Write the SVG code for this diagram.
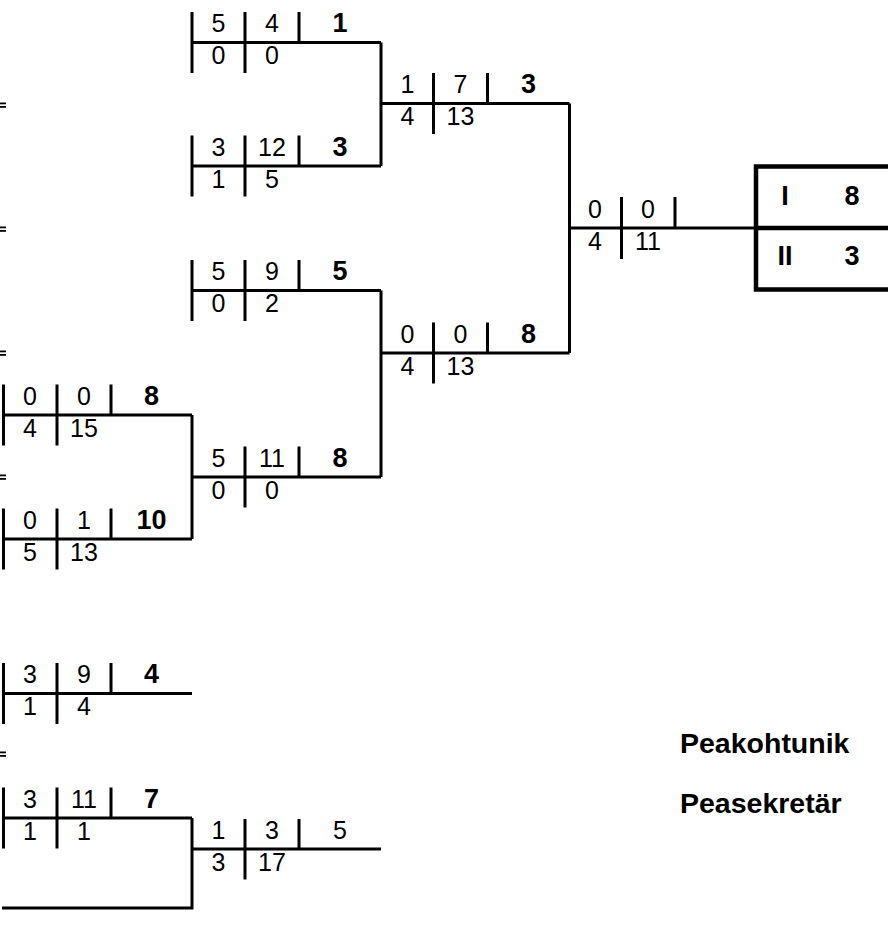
<svg xmlns="http://www.w3.org/2000/svg" width="888" height="934" viewBox="0 0 888 934">
<style>
.ln{stroke:#000;stroke-width:3;fill:none}
.bx{stroke:#000;stroke-width:4.5;fill:none}
.t{font-family:"Liberation Sans",Arial,sans-serif;font-size:25px;fill:#000;text-anchor:middle}
.b{font-weight:bold;font-size:27px}
.lab{font-family:"Liberation Sans",Arial,sans-serif;font-size:28.5px;font-weight:bold;fill:#000}
.mk{fill:#000}
</style>
<rect width="888" height="934" fill="#fff"/>
<g id="marks">
<rect class="mk" x="0" y="102.5" width="6" height="1.8"/><rect class="mk" x="0" y="106" width="6" height="1.8"/>
<rect class="mk" x="0" y="226.5" width="6" height="1.8"/><rect class="mk" x="0" y="230" width="6" height="1.8"/>
<rect class="mk" x="0" y="350.5" width="6" height="1.8"/><rect class="mk" x="0" y="354" width="6" height="1.8"/>
<rect class="mk" x="0" y="474.5" width="6" height="1.8"/><rect class="mk" x="0" y="478" width="6" height="1.8"/>
<rect class="mk" x="0" y="751.5" width="6" height="1.8"/><rect class="mk" x="0" y="755" width="6" height="1.8"/>
</g>
<g id="connectors">
<path class="ln" d="M381,42.5V166M381,290.5V477M192,415V539M569.5,103.5V353M192,818V908H2"/>
</g>
<g id="nA">
<path class="ln" d="M192,12V73M245,12V73M299,12V42.5M192,42.5H381"/>
<text class="t" x="218.5" y="32">5</text><text class="t" x="272" y="32">4</text><text class="t b" x="340" y="32">1</text>
<text class="t" x="218.5" y="64">0</text><text class="t" x="272" y="64">0</text>
</g>
<g id="nB">
<path class="ln" d="M192,135.5V196.5M245,135.5V196.5M299,135.5V166M192,166H381"/>
<text class="t" x="218.5" y="155.5">3</text><text class="t" x="272" y="155.5">12</text><text class="t b" x="340" y="155.5">3</text>
<text class="t" x="218.5" y="187.5">1</text><text class="t" x="272" y="187.5">5</text>
</g>
<g id="nD">
<path class="ln" d="M192,260V321M245,260V321M299,260V290.5M192,290.5H381"/>
<text class="t" x="218.5" y="280">5</text><text class="t" x="272" y="280">9</text><text class="t b" x="340" y="280">5</text>
<text class="t" x="218.5" y="312">0</text><text class="t" x="272" y="312">2</text>
</g>
<g id="nE">
<path class="ln" d="M3.5,384.5V445.5M57,384.5V445.5M111,384.5V415M3.5,415H192"/>
<text class="t" x="30" y="404.5">0</text><text class="t" x="84" y="404.5">0</text><text class="t b" x="151.5" y="404.5">8</text>
<text class="t" x="30" y="436.5">4</text><text class="t" x="84" y="436.5">15</text>
</g>
<g id="nF">
<path class="ln" d="M3.5,508.5V569.5M57,508.5V569.5M111,508.5V539M3.5,539H192"/>
<text class="t" x="30" y="528.5">0</text><text class="t" x="84" y="528.5">1</text><text class="t b" x="151.5" y="528.5">10</text>
<text class="t" x="30" y="560.5">5</text><text class="t" x="84" y="560.5">13</text>
</g>
<g id="nG">
<path class="ln" d="M245,446.5V507.5M299,446.5V477M192,477H381"/>
<text class="t" x="218.5" y="466.5">5</text><text class="t" x="272" y="466.5">11</text><text class="t b" x="340" y="466.5">8</text>
<text class="t" x="218.5" y="498.5">0</text><text class="t" x="272" y="498.5">0</text>
</g>
<g id="nC">
<path class="ln" d="M433.5,73V134M487.5,73V103.5M381,103.5H569.5"/>
<text class="t" x="407.5" y="93">1</text><text class="t" x="460.5" y="93">7</text><text class="t b" x="528.5" y="93">3</text>
<text class="t" x="407.5" y="125">4</text><text class="t" x="460.5" y="125">13</text>
</g>
<g id="nH">
<path class="ln" d="M433.5,322.5V383.5M487.5,322.5V353M381,353H569.5"/>
<text class="t" x="407.5" y="342.5">0</text><text class="t" x="460.5" y="342.5">0</text><text class="t b" x="528.5" y="342.5">8</text>
<text class="t" x="407.5" y="374.5">4</text><text class="t" x="460.5" y="374.5">13</text>
</g>
<g id="nI">
<path class="ln" d="M621.5,197V259M675,197V228M569.5,228H756"/>
<text class="t" x="595" y="217.5">0</text><text class="t" x="648" y="217.5">0</text>
<text class="t" x="595" y="249.5">4</text><text class="t" x="648" y="249.5">11</text>
</g>
<g id="result">
<path class="bx" d="M892,166.5H756V289.5H892M756,228H892"/>
<text class="t b" x="785" y="205">I</text><text class="t b" x="852" y="205">8</text>
<text class="t b" x="785" y="265">II</text><text class="t b" x="852" y="265">3</text>
</g>
<g id="nJ">
<path class="ln" d="M3.5,663V724M57,663V724M111,663V693.5M3.5,693.5H192"/>
<text class="t" x="30" y="683">3</text><text class="t" x="84" y="683">9</text><text class="t b" x="151.5" y="683">4</text>
<text class="t" x="30" y="715">1</text><text class="t" x="84" y="715">4</text>
</g>
<g id="nK">
<path class="ln" d="M3.5,787.5V848.5M57,787.5V848.5M111,787.5V818M3.5,818H192"/>
<text class="t" x="30" y="807.5">3</text><text class="t" x="84" y="807.5">11</text><text class="t b" x="151.5" y="807.5">7</text>
<text class="t" x="30" y="839.5">1</text><text class="t" x="84" y="839.5">1</text>
</g>
<g id="nL">
<path class="ln" d="M245,819V879.5M299,819V849M192,849H381"/>
<text class="t" x="218.5" y="839">1</text><text class="t" x="272" y="839">3</text><text class="t" x="340" y="839">5</text>
<text class="t" x="218.5" y="871">3</text><text class="t" x="272" y="871">17</text>
</g>
<g id="labels">
<text class="lab" x="680" y="752.5">Peakohtunik</text>
<text class="lab" x="680" y="813">Peasekretär</text>
</g>
</svg>
